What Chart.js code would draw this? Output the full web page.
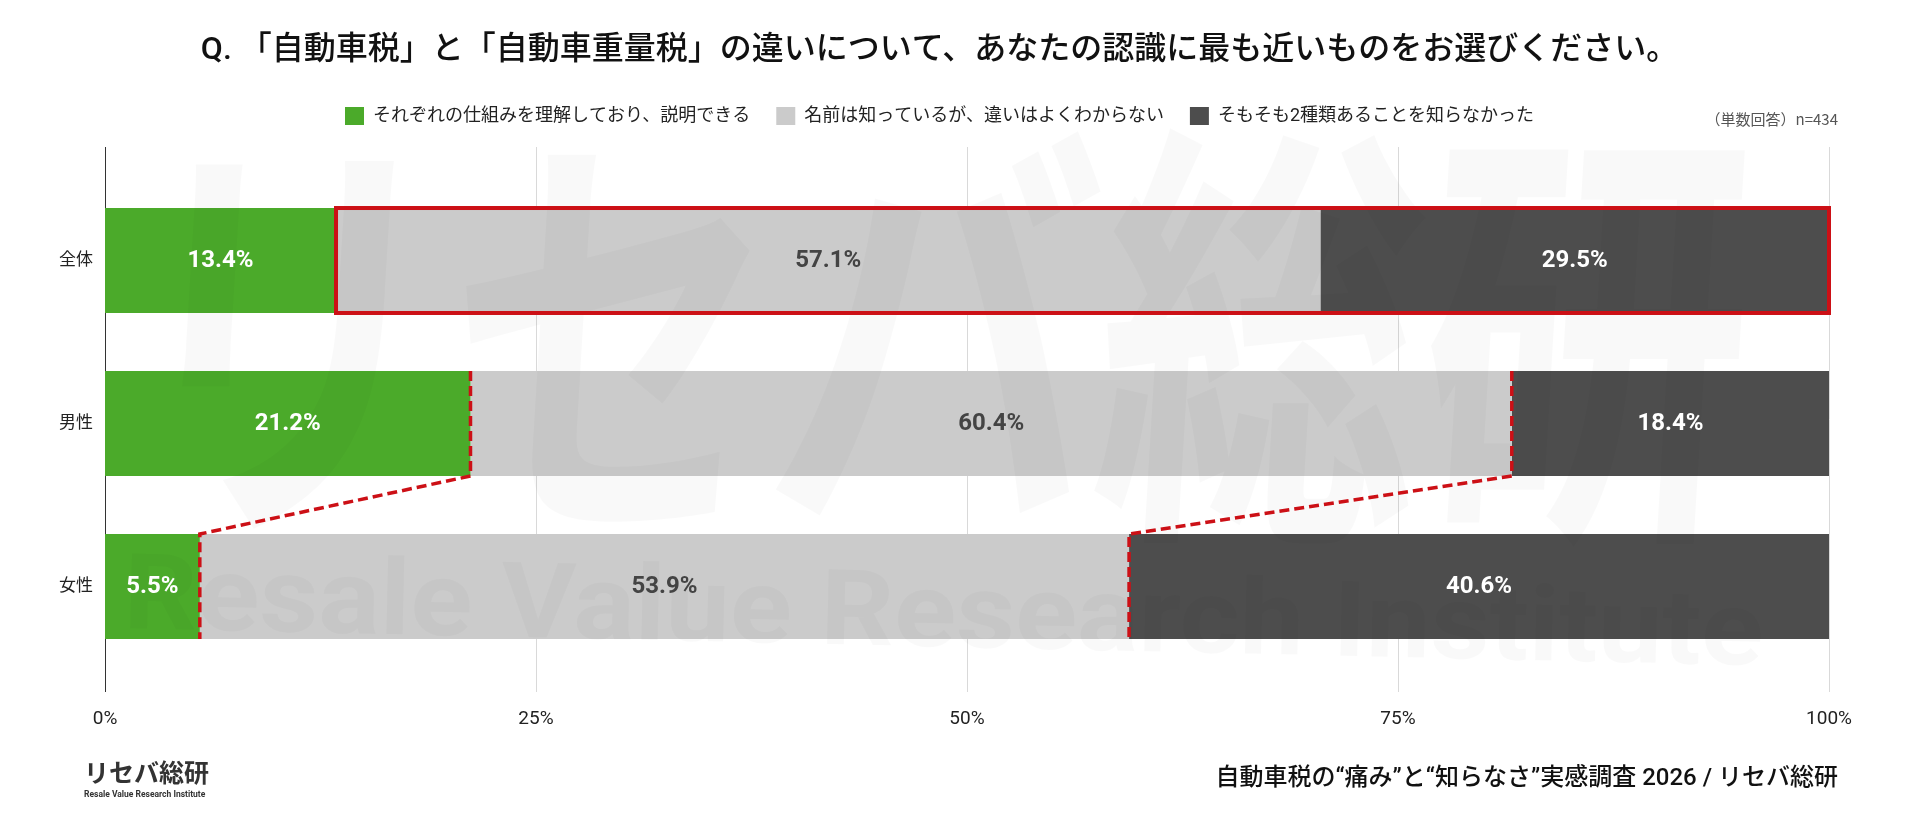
<!DOCTYPE html>
<html lang="ja">
<head>
<meta charset="utf-8">
<title>自動車税と自動車重量税の違いの認識</title>
<script src="https://cdn.jsdelivr.net/npm/chart.js@4.4.1/dist/chart.umd.min.js"></script>
<style>
  html, body { margin: 0; padding: 0; background: #fff; }
  #wrap { width: 1920px; height: 817px; position: relative; }
</style>
</head>
<body>
<div id="wrap"><canvas id="grafico"></canvas></div>
<script>
// dati
const CATEGORIES = ["全体", "男性", "女性"];
const SERIES_NAMES = [
  "それぞれの仕組みを理解しており、説明できる",
  "名前は知っているが、違いはよくわからない",
  "そもそも2種類あることを知らなかった"
];
const VAL_UNDERSTAND = [13.4, 21.2, 5.5];
const VAL_NAME_ONLY = [57.1, 60.4, 53.9];
const VAL_UNAWARE = [29.5, 18.4, 40.6];
const TICK_VALUES = [0, 25, 50, 75, 100];

const TITLE = "Q. 「自動車税」と「自動車重量税」の違いについて、あなたの認識に最も近いものをお選びください。";
const NOTE = "（単数回答）n=434";
const FOOTER = "自動車税の“痛み”と“知らなさ”実感調査 2026 / リセバ総研";

const COLORS = ["#4BAA2A", "#CBCBCB", "#4D4D4D"];
const LABEL_COLORS = ["#FFFFFF", "#444444", "#FFFFFF"];
const RED = "#CC1016";
const FONT = "Roboto, 'Noto Sans CJK JP', sans-serif";
const JP = "'Noto Sans CJK JP', sans-serif";

// griglia verticale che esce un po' sopra e sotto l'area dati
const gridPlugin = {
  id: "gridExt",
  beforeDatasetsDraw(chart) {
    const { ctx, chartArea, scales: { x } } = chart;
    ctx.save();
    ctx.lineWidth = 1;
    TICK_VALUES.forEach(v => {
      const px = Math.round(x.getPixelForValue(v)) + 0.5;
      ctx.strokeStyle = v === 0 ? "#333333" : "#D9D9D9";
      ctx.beginPath();
      ctx.moveTo(px, chartArea.top - 32);
      ctx.lineTo(px, chartArea.bottom + 24);
      ctx.stroke();
    });
    ctx.restore();
  }
};

function drawWatermark(ctx) {
  ctx.save();
  ctx.fillStyle = "rgba(0,0,0,0.022)";
  ctx.font = "bold 340px " + JP;
  ctx.textBaseline = "middle";
  const w = ctx.measureText("リセバ総研").width;
  ctx.translate(122, 336);
  ctx.transform(1, 0, -0.06, 1, 0, 0);
  ctx.scale(1628 / w, 1.3);
  ctx.fillText("リセバ総研", 0, 0);
  ctx.restore();

  ctx.save();
  ctx.fillStyle = "rgba(0,0,0,0.025)";
  ctx.font = "bold 105px Roboto, sans-serif";
  ctx.textBaseline = "alphabetic";
  const w2 = ctx.measureText("Resale Value Research Institute").width;
  ctx.translate(123, 628);
  ctx.rotate(1.3 * Math.PI / 180);
  ctx.scale(1640 / w2, 1);
  ctx.fillText("Resale Value Research Institute", 0, 0);
  ctx.restore();
}

const overlayPlugin = {
  id: "overlay",
  afterDatasetsDraw(chart) {
    const { ctx, scales: { x } } = chart;
    drawWatermark(ctx);

    // etichette percentuali dentro le barre
    ctx.save();
    ctx.font = "bold 24px " + FONT;
    ctx.textAlign = "center";
    ctx.textBaseline = "middle";
    chart.data.datasets.forEach((ds, di) => {
      chart.getDatasetMeta(di).data.forEach((bar, i) => {
        ctx.fillStyle = LABEL_COLORS[di];
        ctx.fillText(ds.data[i].toFixed(1) + "%", (bar.x + bar.base) / 2, bar.y);
      });
    });
    ctx.restore();

    // riquadro rosso sul totale
    const m0 = chart.getDatasetMeta(0).data;
    const m1 = chart.getDatasetMeta(1).data;
    const b = m0[0];
    ctx.save();
    ctx.strokeStyle = RED;
    ctx.lineWidth = 4;
    ctx.strokeRect(b.x, b.y - b.height / 2, x.getPixelForValue(100) - b.x, b.height);
    ctx.restore();

    // linee tratteggiate uomo -> donna
    ctx.save();
    ctx.strokeStyle = RED;
    ctx.lineWidth = 3.5;
    ctx.setLineDash([10, 5]);
    [m0, m1].forEach(meta => {
      const a = meta[1], c = meta[2];
      ctx.beginPath();
      ctx.moveTo(a.x, a.y - a.height / 2);
      ctx.lineTo(a.x, a.y + a.height / 2);
      ctx.lineTo(c.x, c.y - c.height / 2);
      ctx.lineTo(c.x, c.y + c.height / 2);
      ctx.stroke();
    });
    ctx.restore();
  },
  afterDraw(chart) {
    const { ctx } = chart;
    ctx.save();
    ctx.fillStyle = "#555555";
    ctx.font = "15px " + JP;
    ctx.textAlign = "right";
    ctx.textBaseline = "middle";
    ctx.fillText(NOTE, 1838, 119);

    ctx.fillStyle = "#111111";
    ctx.font = "500 24px " + FONT;
    ctx.fillText(FOOTER, 1838, 779);

    // logo in basso a sinistra
    ctx.textAlign = "left";
    ctx.fillStyle = "#333333";
    ctx.font = "bold 25px " + JP;
    ctx.fillText("リセバ総研", 84, 772);
    ctx.font = "bold 8.5px Roboto, sans-serif";
    ctx.fillText("Resale Value Research Institute", 84, 795);
    ctx.restore();
  }
};

const datasets = [VAL_UNDERSTAND, VAL_NAME_ONLY, VAL_UNAWARE].map((vals, i) => ({
  label: SERIES_NAMES[i],
  data: vals,
  backgroundColor: COLORS[i],
  borderWidth: 0,
  barPercentage: 0.644,
  categoryPercentage: 1.0
}));

let grafico = new Chart("grafico", {
  type: "bar",
  data: { labels: CATEGORIES, datasets: datasets },
  plugins: [gridPlugin, overlayPlugin],
  options: {
    indexAxis: "y",
    responsive: true,
    maintainAspectRatio: false,
    animation: false,
    devicePixelRatio: 1,
    layout: { padding: { left: 50, right: 91, top: 0, bottom: 0 } },
    plugins: {
      title: {
        display: true,
        text: TITLE,
        color: "#111111",
        font: { size: 32, weight: "500", family: FONT },
        padding: { top: 32, bottom: 10.6 }
      },
      legend: {
        position: "top",
        labels: {
          boxWidth: 19,
          boxHeight: 18,
          padding: 26,
          color: "#222222",
          font: { size: 18, family: FONT }
        }
      },
      tooltip: { enabled: false }
    },
    scales: {
      x: {
        stacked: true,
        min: 0,
        max: 100,
        position: "bottom",
        afterBuildTicks: s => { s.ticks = TICK_VALUES.map(v => ({ value: v })); },
        afterFit: s => { s.height = 149; },
        grid: { display: false, drawTicks: false },
        border: { display: false },
        ticks: {
          padding: 40,
          color: "#222222",
          font: { size: 19, family: FONT },
          callback: v => v + "%"
        }
      },
      x2: {
        type: "linear",
        position: "top",
        display: true,
        grid: { display: false, drawTicks: false },
        border: { display: false },
        ticks: { display: false },
        afterFit: s => { s.height = 44; }
      },
      y: {
        stacked: true,
        afterFit: s => { s.width = 55; },
        grid: { display: false, drawTicks: false },
        border: { display: false },
        ticks: {
          padding: 12,
          color: "#222222",
          font: { size: 17, family: FONT }
        }
      }
    }
  }
});
</script>
</body>
</html>
